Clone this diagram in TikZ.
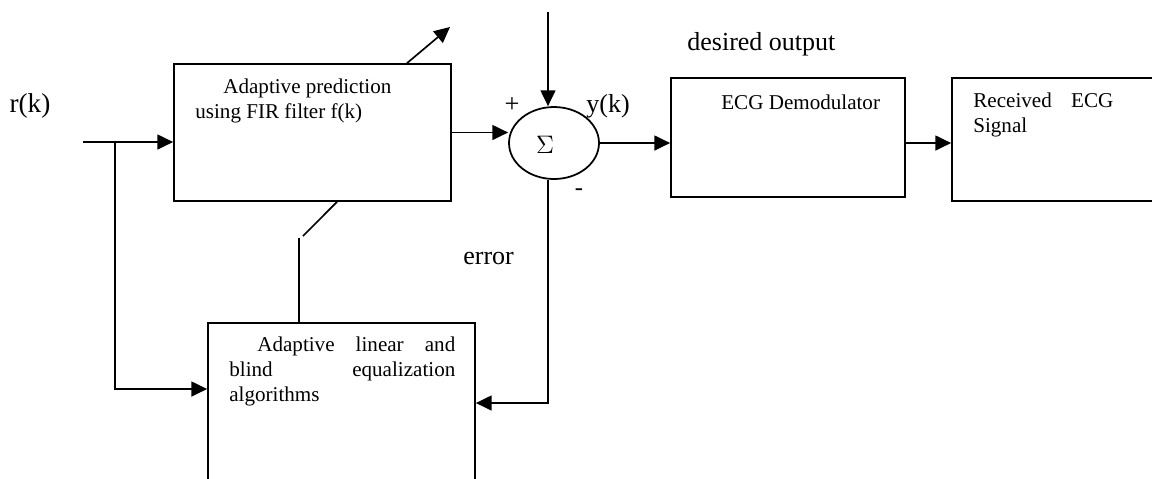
\documentclass[tikz,border=0pt]{standalone}
\usepackage{fontspec}
\setmainfont{Liberation Serif}
\usetikzlibrary{positioning,arrows.meta,shapes.geometric}

\begin{document}
\begin{tikzpicture}[
  x=0.02cm, y=-0.02cm,
  blk/.style={rectangle, draw=black, line width=1pt, inner sep=0pt},
  sumn/.style={ellipse, draw=black, line width=1pt, inner sep=0pt,
               minimum width=1.8cm, minimum height=1.44cm},
  flow/.style={-{Triangle[length=9pt,width=8.5pt]}, line width=0.95pt},
  wire/.style={line width=0.95pt},
  btxt/.style={font=\fontsize{12}{14.2}\selectfont, inner sep=0pt, anchor=west},
  big/.style={font=\fontsize{14.8}{17}\selectfont, inner sep=0pt}
]
\useasboundingbox (0,0) rectangle (1152,478);
\clip (0,0) rectangle (1152,478);

% blocks
\node[blk, minimum width=5.54cm, minimum height=2.74cm] (pred) at (312.5,132.5) {};
\node[blk, minimum width=5.34cm, minimum height=3.6cm]  (equ)  at (341.5,413) {};
\node[sumn] (sum) at (554,143) {};
\node[blk, minimum width=4.68cm, minimum height=2.38cm] (demod) at (788,137.5) {};
\node[blk, minimum width=4.76cm, minimum height=2.46cm] (rcv)   at (1071,139.5) {};

% texts
\node[btxt, align=left] (predtxt) at (195,100.5)
  {\hspace*{0.56cm}Adaptive prediction\\using FIR filter f(k)};
\node[btxt, text width=4.52cm, align=justify] (equtxt) at (229,371.5)
  {\hspace*{0.56cm}Adaptive linear and\linebreak blind equalization\linebreak algorithms};
\node[btxt] (demodtxt) at (721,102) {ECG Demodulator};
\node[btxt, text width=2.8cm, align=justify] (rcvtxt) at (973,114.5)
  {Received ECG\linebreak Signal};
\node[font=\fontsize{15}{17}\selectfont, inner sep=0pt] (sig) at (545,145) {$\Sigma$};
\node[font=\fontsize{15.5}{17}\selectfont, inner sep=0pt] (rk) at (30,106) {r(k)};
\node[big, anchor=west] (des) at (687,44) {desired output};
\node[big] (yk) at (608,106) {y(k)};
\node[font=\fontsize{15}{17}\selectfont, inner sep=0pt] (plus) at (512,105) {+};
\node[font=\fontsize{14}{16}\selectfont, inner sep=0pt] (minus) at (579,192) {-};
\node[big, anchor=west] (err) at (463,258) {error};

% helper points
\coordinate (in)   at (83,142);
\coordinate (br)   at (115,142);
\coordinate (low)  at (115,389);
\coordinate (top)  at (548,12);
\coordinate (errc) at (548,403);
\coordinate (adj)  at (450,27);
\coordinate (k1)   at (303,236);
\coordinate (k2)   at (299,238);

% connectors
\draw[flow] (in) -- (in -| pred.west);
\draw[flow] (br) -- (low) -- (low -| equ.west);
\draw[flow] (pred.east) -- (pred.east -| sum.west);
\draw[flow] (top) -- (top |- sum.north);
\draw[flow] (sum.east) -- (sum.east -| demod.west);
\draw[flow] (demod.east |- sum.east) -- (sum.east -| rcv.west);
\draw[flow] (top |- sum.south) -- (errc) -- (errc -| equ.east);
\draw[flow] ([xshift=1.89cm]pred.north) -- (adj);
\draw[wire] ([xshift=0.49cm]pred.south) -- (k1);
\draw[wire] (k2) -- (k2 |- equ.north);
\end{tikzpicture}
\end{document}
